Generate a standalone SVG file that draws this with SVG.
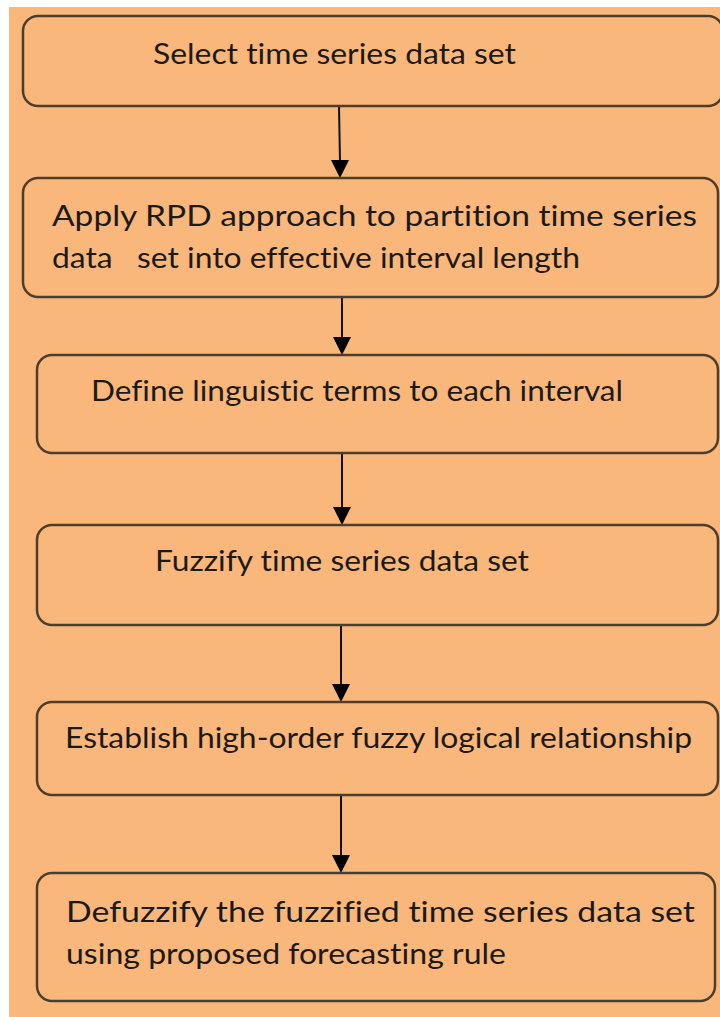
<svg xmlns="http://www.w3.org/2000/svg" width="720" height="1017" viewBox="0 0 720 1017">
<style>
.box{fill:#F9B77B;stroke:#4f3d2c;stroke-width:2.5}
.t{font-family:Lato,"Open Sans","Liberation Sans",sans-serif;font-size:28px;fill:#1c1a18;font-variant-ligatures:none;font-feature-settings:"liga" 0,"clig" 0,"dlig" 0;white-space:pre}
.c{stroke:#111;stroke-width:2;fill:none}
</style>
<rect x="0" y="0" width="720" height="1017" fill="#ffffff"/>
<rect x="9" y="7" width="711" height="1010" fill="#F9B77B"/>
<g id="connectors">
<line class="c" x1="339" y1="106" x2="340" y2="162"/>
<path d="M331,160 L349,160 L340,178 z" fill="#000"/>
<line class="c" x1="342" y1="297" x2="342" y2="339"/>
<path d="M333,337 L351,337 L342,355 z" fill="#000"/>
<line class="c" x1="342" y1="453" x2="342" y2="509"/>
<path d="M333,507 L351,507 L342,525 z" fill="#000"/>
<line class="c" x1="341" y1="625" x2="341" y2="686"/>
<path d="M332,684 L350,684 L341,702 z" fill="#000"/>
<line class="c" x1="341" y1="795" x2="341" y2="857"/>
<path d="M332,855 L350,855 L341,873 z" fill="#000"/>
</g>
<g id="n1">
<rect class="box" x="23" y="16" width="700" height="90" rx="15"/>
<text class="t" x="153" y="64" textLength="363" lengthAdjust="spacingAndGlyphs">Select time series data set</text>
</g>
<g id="n2">
<rect class="box" x="23" y="178" width="695" height="119" rx="15"/>
<text class="t" x="52" y="226" textLength="645" lengthAdjust="spacingAndGlyphs">Apply RPD approach to partition time series</text>
<text class="t" x="52" y="268" textLength="528" lengthAdjust="spacingAndGlyphs">data   set into effective interval length</text>
</g>
<g id="n3">
<rect class="box" x="37" y="355" width="681" height="98" rx="15"/>
<text class="t" x="91" y="401" textLength="532" lengthAdjust="spacingAndGlyphs">Define linguistic terms to each interval</text>
</g>
<g id="n4">
<rect class="box" x="37" y="525" width="681" height="100" rx="15"/>
<text class="t" x="155" y="571" textLength="374" lengthAdjust="spacingAndGlyphs">Fuzzify time series data set</text>
</g>
<g id="n5">
<rect class="box" x="37" y="702" width="681" height="93" rx="15"/>
<text class="t" x="65" y="748" textLength="627" lengthAdjust="spacingAndGlyphs">Establish high-order fuzzy logical relationship</text>
</g>
<g id="n6">
<rect class="box" x="37" y="873" width="678" height="128" rx="15"/>
<text class="t" x="66" y="922" textLength="629" lengthAdjust="spacingAndGlyphs">Defuzzify the fuzzified time series data set</text>
<text class="t" x="66" y="964" textLength="440" lengthAdjust="spacingAndGlyphs">using proposed forecasting rule</text>
</g>
</svg>
